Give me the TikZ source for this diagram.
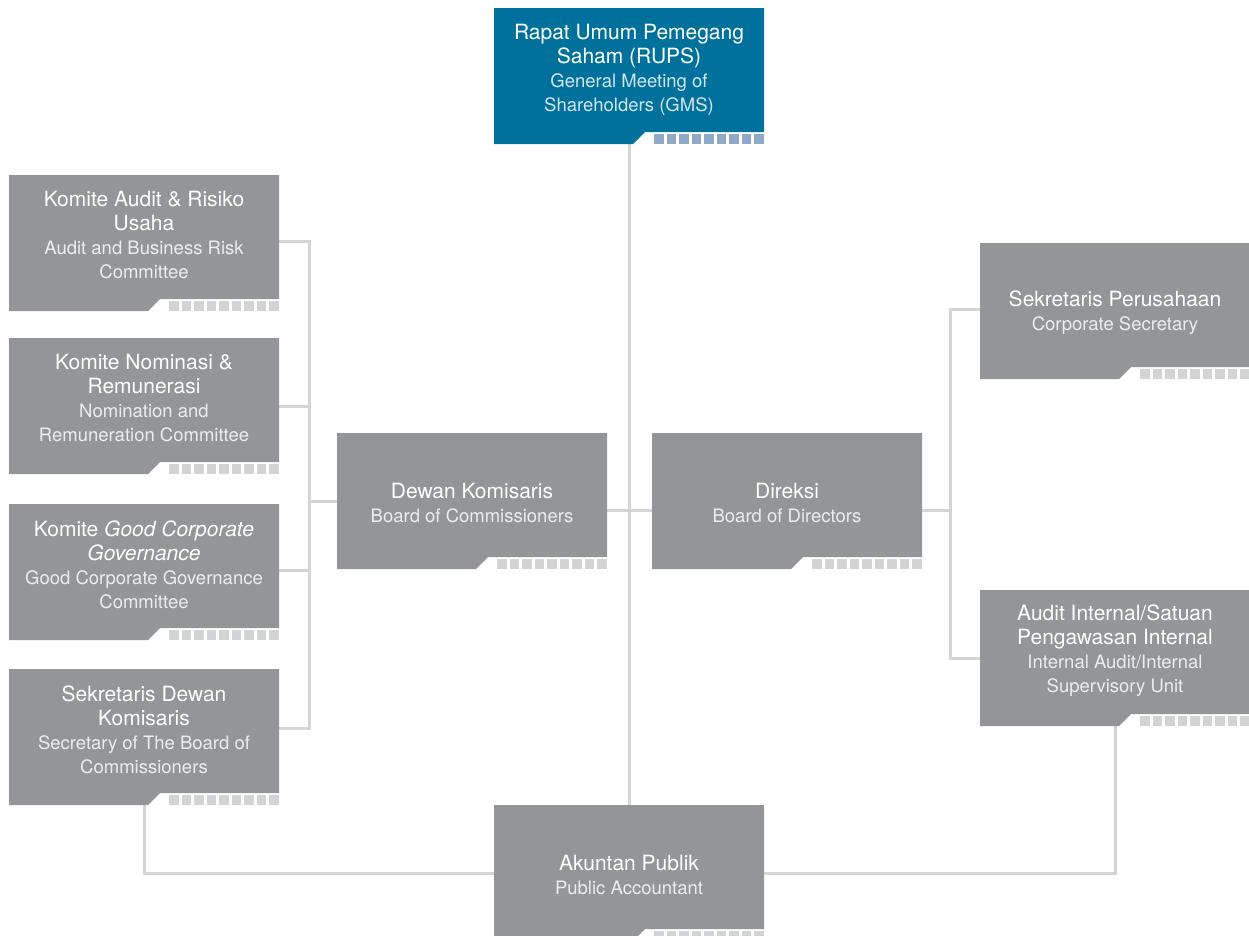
\documentclass[tikz,border=0pt]{standalone}
\usepackage{fontspec}
\setmainfont{TeX Gyre Heros}
\usetikzlibrary{calc}
\definecolor{boxgray}{HTML}{939598}
\definecolor{boxblue}{HTML}{00719C}
\definecolor{sqgray}{HTML}{D1D3D4}
\definecolor{sqblue}{HTML}{8FA9C8}
\definecolor{linegray}{HTML}{D4D5D6}
\definecolor{subgray}{HTML}{EDEDEE}
\definecolor{subblue}{HTML}{D4E6EF}
\pgfdeclarelayer{bg}\pgfdeclarelayer{lines}\pgfdeclarelayer{boxes}
\pgfsetlayers{bg,lines,boxes,main}
\newcommand\ttl{\fontsize{21}{24}\selectfont\color{white}}
\newcommand\sbg{\fontsize{18.5}{24}\selectfont\color{subgray}}
\newcommand\sbb{\fontsize{18.5}{24}\selectfont\color{subblue}}
\newcommand\orgshape[3]{%
  \begin{pgfonlayer}{boxes}
  \fill[#2] (#1.north west) -- (#1.north east) -- ($(#1.south east)+(0,-12)$)
     -- ($(#1.south west)+(151,-12)$) -- ($(#1.south west)+(139,0)$)
     -- (#1.south west) -- cycle;
  \foreach \i in {0,...,8}
    \fill[#3] ($(#1.south west)+(160+12.55*\i,0)$) rectangle ++(9.6,-9.6);
  \end{pgfonlayer}}
\begin{document}
\begin{tikzpicture}[x=1pt,y=-1pt,
  boxn/.style={minimum width=270pt,minimum height=136pt,inner sep=0pt,outer sep=0pt},
  txt/.style={align=center,inner sep=0pt,font=\fontsize{21}{24}\selectfont},
  conn/.style={draw=linegray,line width=3pt}]
\clip (0,0) rectangle (1249,935);
\begin{pgfonlayer}{bg}
\fill[white] (0,0) rectangle (1249,935);
\end{pgfonlayer}
% box anchors
\node[boxn] (rups)    at (629,76)  {};
\node[boxn] (ka)      at (144,243) {};
\node[boxn] (kn)      at (144,406) {};
\node[boxn] (gcg)     at (144,572) {};
\node[boxn] (sd)      at (144,737) {};
\node[boxn] (dewan)   at (472,501) {};
\node[boxn] (direksi) at (787,501) {};
\node[boxn] (sp)      at (1115,311) {};
\node[boxn] (ai)      at (1115,658) {};
\node[boxn] (akuntan) at (629,873) {};
\coordinate (lb) at (309,0);
\coordinate (rb) at (950,0);
% shapes
\orgshape{rups}{boxblue}{sqblue}
\orgshape{ka}{boxgray}{sqgray}
\orgshape{kn}{boxgray}{sqgray}
\orgshape{gcg}{boxgray}{sqgray}
\orgshape{sd}{boxgray}{sqgray}
\orgshape{dewan}{boxgray}{sqgray}
\orgshape{direksi}{boxgray}{sqgray}
\orgshape{sp}{boxgray}{sqgray}
\orgshape{ai}{boxgray}{sqgray}
\orgshape{akuntan}{boxgray}{sqgray}
% connectors
\begin{pgfonlayer}{lines}
\draw[conn] (rups.south) -- (akuntan.north);
\draw[conn] ($(dewan.east)+(0,9)$) -- ($(direksi.west)+(0,9)$);
\draw[conn] ($(ka.east)+(0,-2)$) -| ($(sd.east -| lb)+(0,-9)$) -- ($(sd.east)+(0,-9)$);
\draw[conn] (kn.east) -- (kn.east -| lb);
\draw[conn] ($(gcg.east)+(0,-2)$) -- ($(gcg.east -| lb)+(0,-2)$);
\draw[conn] (dewan.west) -- (dewan.west -| lb);
\draw[conn] ($(sp.west)+(0,-2)$) -| (ai.west -| rb) -- (ai.west);
\draw[conn] ($(direksi.east)+(0,9)$) -- ($(direksi.east -| rb)+(0,9)$);
\draw[conn] (sd.south) |- (akuntan.west);
\draw[conn] (ai.south) |- (akuntan.east);
\end{pgfonlayer}
% texts
\node[txt] (rups-t) at ($(rups)+(0,-6.5)$) {\ttl Rapat Umum Pemegang\\\ttl Saham (RUPS)\\\sbb General Meeting of\\\sbb Shareholders (GMS)};
\node[txt] (ka-t) at ($(ka)+(0,-7.5)$) {\ttl Komite Audit \& Risiko\\\ttl Usaha\\\sbg Audit and Business Risk\\\sbg Committee};
\node[txt] (kn-t) at ($(kn)+(0,-7.5)$) {\ttl Komite Nominasi \&\\\ttl Remunerasi\\\sbg Nomination and\\\sbg Remuneration Committee};
\node[txt] (gcg-t) at ($(gcg)+(0,-7.5)$) {\ttl Komite \textit{Good Corporate}\\\ttl \textit{Governance}\\\sbg Good Corporate Governance\\\sbg Committee};
\node[txt] (sd-t) at ($(sd)+(0,-7.5)$) {\ttl Sekretaris Dewan\\\ttl Komisaris\\\sbg Secretary of The Board of\\\sbg Commissioners};
\node[txt] (dewan-t) at ($(dewan)+(0,2)$) {\ttl Dewan Komisaris\\\sbg Board of Commissioners};
\node[txt] (direksi-t) at ($(direksi)+(0,2)$) {\ttl Direksi\\\sbg Board of Directors};
\node[txt] (sp-t) at ($(sp)+(0,2)$) {\ttl Sekretaris Perusahaan\\\sbg Corporate Secretary};
\node[txt] (ai-t) at ($(ai)+(0,-7.5)$) {\ttl Audit Internal/Satuan\\\ttl Pengawasan Internal\\\sbg Internal Audit/Internal\\\sbg Supervisory Unit};
\node[txt] (akuntan-t) at ($(akuntan)+(0,2)$) {\ttl Akuntan Publik\\\sbg Public Accountant};
\end{tikzpicture}
\end{document}
